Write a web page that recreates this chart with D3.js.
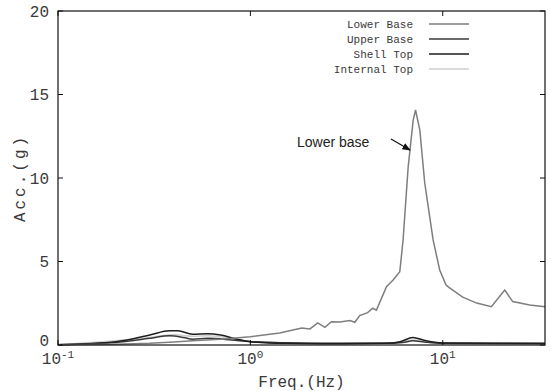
<!DOCTYPE html>
<html>
<head>
<meta charset="utf-8">
<script src="https://cdn.jsdelivr.net/npm/d3@7"></script>
<style>
  body { margin: 0; background: #fff; }
  text { font-family: "Liberation Mono", "Courier New", monospace; fill: #3a3a3a; }
</style>
</head>
<body>
<script>
// series data, freq in Hz / acc in g
var seriesNames = ["Lower Base", "Upper Base", "Shell Top", "Internal Top"];
var seriesColors = ["#7e7e7e", "#3a3a3a", "#1e1e1e", "#cfcfcf"];

var lowerBaseFreq = [0.1, 0.2, 0.3, 0.4, 0.5, 0.7, 1.0, 1.42, 1.85, 2.04, 2.24, 2.44, 2.64, 2.92, 3.29, 3.49, 3.7, 4.07, 4.33, 4.52, 5.1, 5.52, 5.98, 6.22, 6.61, 7.02, 7.22, 7.6, 8.06, 8.91, 9.64, 10.4, 10.9, 12.7, 15.0, 17.9, 21.0, 23.1, 28.3, 34];
var lowerBaseAcc = [0.02, 0.05, 0.1, 0.18, 0.25, 0.35, 0.5, 0.72, 1.02, 0.96, 1.32, 1.06, 1.39, 1.38, 1.46, 1.36, 1.76, 1.94, 2.2, 2.09, 3.49, 3.89, 4.39, 6.29, 10.66, 13.47, 14.07, 12.87, 9.7, 6.29, 4.49, 3.59, 3.41, 2.87, 2.51, 2.29, 3.29, 2.6, 2.4, 2.29];

var upperBaseFreq = [0.1, 0.2, 0.3, 0.38, 0.45, 0.5, 0.6, 0.8, 1.0, 2.0, 5.0, 6.2, 7.0, 8.0, 10, 34];
var upperBaseAcc = [0.02, 0.15, 0.4, 0.55, 0.45, 0.35, 0.4, 0.3, 0.2, 0.1, 0.1, 0.15, 0.25, 0.18, 0.1, 0.08];

var shellTopFreq = [0.1, 0.2, 0.3, 0.38, 0.42, 0.5, 0.6, 0.7, 0.85, 1.0, 1.5, 3.0, 5.0, 6.0, 7.0, 8.0, 10, 20, 34];
var shellTopAcc = [0.02, 0.2, 0.6, 0.85, 0.85, 0.65, 0.68, 0.6, 0.35, 0.2, 0.1, 0.08, 0.1, 0.2, 0.45, 0.28, 0.12, 0.1, 0.1];

var internalTopFreq = [0.1, 0.3, 0.4, 0.5, 0.6, 0.8, 1.0, 2.0, 5.5, 7.0, 8.5, 10, 34];
var internalTopAcc = [0.02, 0.45, 0.62, 0.52, 0.55, 0.4, 0.2, 0.1, 0.12, 0.3, 0.15, 0.1, 0.1];

var yTicks = [0, 5, 10, 15, 20];
var xTicks = [0.1, 1, 10];
var xTickExp = ["-1", "0", "1"];

var allFreq = [lowerBaseFreq, upperBaseFreq, shellTopFreq, internalTopFreq];
var allAcc = [lowerBaseAcc, upperBaseAcc, shellTopAcc, internalTopAcc];

var margin = {top: 11, right: 6, bottom: 46, left: 58},
  width = 551 - margin.left - margin.right,
  height = 391 - margin.top - margin.bottom;

var svg = d3.select("body").append("svg")
  .attr("width", 551)
  .attr("height", 391)
  .append("g")
  .attr("transform", "translate(" + margin.left + "," + margin.top + ")");

var x = d3.scaleLog().domain([0.1, 34]).range([0, width]);
var y = d3.scaleLinear().domain([0, 20]).range([height, 0]);

// lines, drawn back to front
var order = [3, 1, 2, 0];
order.forEach(function(k) {
  var pts = allFreq[k].map(function(f, j) { return [f, allAcc[k][j]]; });
  var line = d3.line()
    .x(function(d) { return x(d[0]); })
    .y(function(d) { return y(d[1]); })
    .curve(k === 0 ? d3.curveLinear : d3.curveMonotoneX);
  svg.append("path")
    .datum(pts)
    .attr("fill", "none")
    .attr("stroke", seriesColors[k])
    .attr("stroke-width", k === 3 ? 1.6 : 1.5)
    .attr("d", line);
});

// frame
svg.append("rect")
  .attr("width", width).attr("height", height)
  .attr("fill", "none").attr("stroke", "#111").attr("stroke-width", 1.2);

// y ticks both sides
yTicks.forEach(function(t) {
  svg.append("line").attr("x1", 0).attr("x2", 5).attr("y1", y(t)).attr("y2", y(t)).attr("stroke", "#111");
  svg.append("line").attr("x1", width - 5).attr("x2", width).attr("y1", y(t)).attr("y2", y(t)).attr("stroke", "#111");
  svg.append("text")
    .attr("x", -9).attr("y", y(t) - (t === 0 ? 5 : 0)).attr("dy", "0.35em")
    .attr("text-anchor", "end")
    .style("font-size", "16px")
    .text(t);
});

// x ticks both sides
xTicks.forEach(function(t, i) {
  svg.append("line").attr("x1", x(t)).attr("x2", x(t)).attr("y1", height).attr("y2", height - 5).attr("stroke", "#111");
  svg.append("line").attr("x1", x(t)).attr("x2", x(t)).attr("y1", 0).attr("y2", 5).attr("stroke", "#111");
  var lab = svg.append("text")
    .attr("x", x(t)).attr("y", height + 19)
    .attr("text-anchor", "middle")
    .style("font-size", "16px");
  lab.append("tspan").text("10");
  lab.append("tspan").attr("dy", -6).style("font-size", "11px").text(xTickExp[i]);
});

// axis titles
svg.append("text")
  .attr("x", width / 2).attr("y", height + 42)
  .attr("text-anchor", "middle")
  .style("font-size", "16px")
  .text("Freq.(Hz)");

svg.append("text")
  .attr("transform", "translate(" + (-33) + "," + (y(10)) + ") rotate(-90)")
  .attr("text-anchor", "middle")
  .style("font-size", "16px")
  .style("letter-spacing", "3px")
  .text("Acc.(g)");

// legend
var legend = svg.append("g").attr("transform", "translate(" + (413 - margin.left) + ",0)");
seriesNames.forEach(function(name, i) {
  var ly = 13 + i * 15;
  legend.append("text")
    .attr("x", 0).attr("y", ly).attr("dy", "0.35em")
    .attr("text-anchor", "end")
    .style("font-size", "11px")
    .text(name);
  legend.append("line")
    .attr("x1", 16).attr("x2", 56).attr("y1", ly).attr("y2", ly)
    .attr("stroke", seriesColors[i]).attr("stroke-width", 1.6);
});

// annotation
svg.append("defs").append("marker")
  .attr("id", "arrow")
  .attr("viewBox", "0 0 10 10")
  .attr("refX", 9).attr("refY", 5)
  .attr("markerWidth", 7).attr("markerHeight", 7)
  .attr("orient", "auto")
  .append("path").attr("d", "M0,1 L10,5 L0,9 z").attr("fill", "#111");

svg.append("text")
  .attr("x", 297 - margin.left).attr("y", 147 - margin.top)
  .style("font-family", "'Liberation Sans', Arial, sans-serif")
  .style("font-size", "14px")
  .style("fill", "#222")
  .text("Lower base");

svg.append("line")
  .attr("x1", 391 - margin.left).attr("y1", 139 - margin.top)
  .attr("x2", 410 - margin.left).attr("y2", 150 - margin.top)
  .attr("stroke", "#111").attr("stroke-width", 1.2)
  .attr("marker-end", "url(#arrow)");
</script>
</body>
</html>
